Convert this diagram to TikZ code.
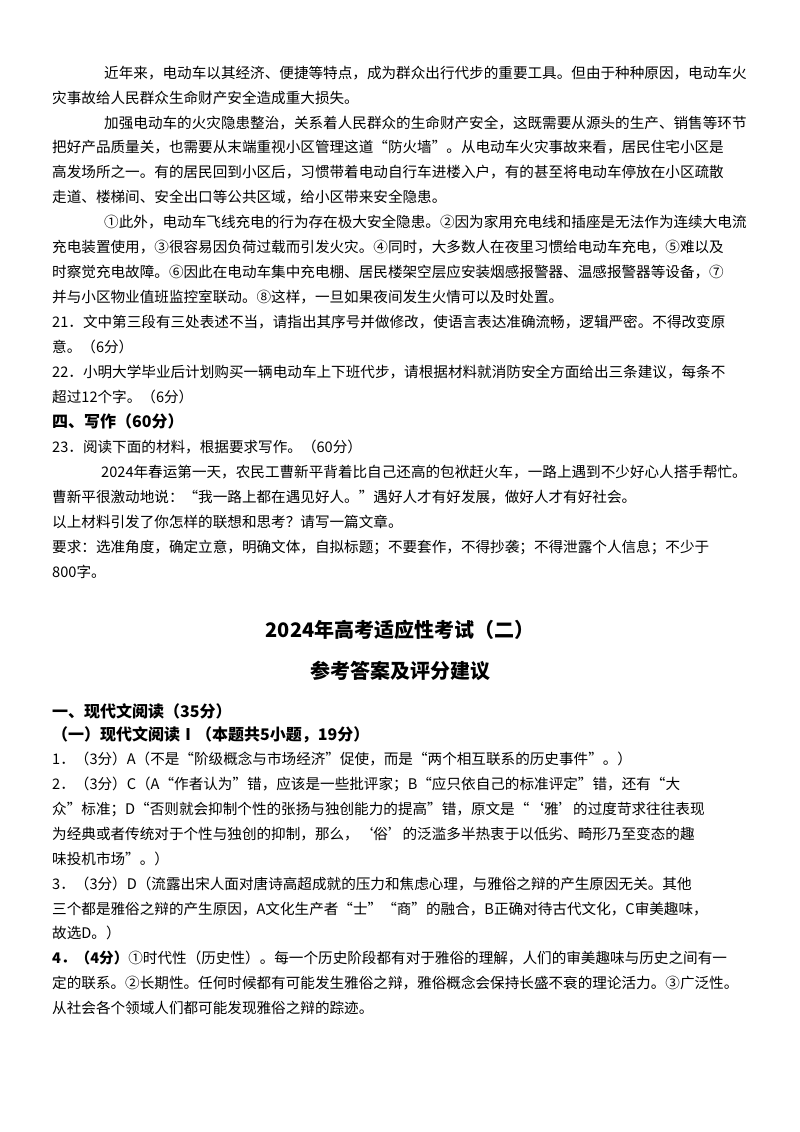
\documentclass[tikz,border=0pt]{standalone}
\usepackage{fontspec}
\setmainfont{Noto Sans CJK SC}
\newfontfamily\cjkb{Noto Sans CJK SC Bold}
\begin{document}
\begin{tikzpicture}[x=1pt,y=-1pt,
  ln/.style={anchor=west,inner sep=0pt,font=\fontsize{14.6}{16}\selectfont},
  hd/.style={anchor=west,inner sep=0pt,font=\fontsize{16}{18}\selectfont\bfseries},
  tt/.style={anchor=center,inner sep=0pt,font=\fontsize{20}{22}\selectfont\bfseries}]
\useasboundingbox[fill=white] (0,0) rectangle (800,1132);
\node[ln] (a1) at (104,73) {近年来，电动车以其经济、便捷等特点，成为群众出行代步的重要工具。但由于种种原因，电动车火};
\node[ln] (a2) at (52,98) {灾事故给人民群众生命财产安全造成重大损失。};
\node[ln] (a3) at (104,123) {加强电动车的火灾隐患整治，关系着人民群众的生命财产安全，这既需要从源头的生产、销售等环节};
\node[ln] (a4) at (52,147) {把好产品质量关，也需要从末端重视小区管理这道“防火墙”。从电动车火灾事故来看，居民住宅小区是};
\node[ln] (a5) at (52,172) {高发场所之一。有的居民回到小区后，习惯带着电动自行车进楼入户，有的甚至将电动车停放在小区疏散};
\node[ln] (a6) at (52,197) {走道、楼梯间、安全出口等公共区域，给小区带来安全隐患。};
\node[ln] (a7) at (104,222) {①此外，电动车飞线充电的行为存在极大安全隐患。②因为家用充电线和插座是无法作为连续大电流};
\node[ln] (a8) at (52,247) {充电装置使用，③很容易因负荷过载而引发火灾。④同时，大多数人在夜里习惯给电动车充电，⑤难以及};
\node[ln] (a9) at (52,272) {时察觉充电故障。⑥因此在电动车集中充电棚、居民楼架空层应安装烟感报警器、温感报警器等设备，⑦};
\node[ln] (a10) at (52,297) {并与小区物业值班监控室联动。⑧这样，一旦如果夜间发生火情可以及时处置。};
\node[ln] (b1) at (52,322) {21．文中第三段有三处表述不当，请指出其序号并做修改，使语言表达准确流畅，逻辑严密。不得改变原};
\node[ln] (b2) at (52,347) {意。（6分）};
\node[ln] (b3) at (52,372) {22．小明大学毕业后计划购买一辆电动车上下班代步，请根据材料就消防安全方面给出三条建议，每条不};
\node[ln] (b4) at (52,397) {超过12个字。（6分）};
\node[hd] (b5) at (52,421) {四、写作（60分）};
\node[ln] (b6) at (52,447) {23．阅读下面的材料，根据要求写作。（60分）};
\node[ln] (b7) at (101,472) {2024年春运第一天，农民工曹新平背着比自己还高的包袱赶火车，一路上遇到不少好心人搭手帮忙。};
\node[ln] (b8) at (52,497) {曹新平很激动地说：“我一路上都在遇见好人。”遇好人才有好发展，做好人才有好社会。};
\node[ln] (b9) at (52,522) {以上材料引发了你怎样的联想和思考？请写一篇文章。};
\node[ln] (b10) at (52,547) {要求：选准角度，确定立意，明确文体，自拟标题；不要套作，不得抄袭；不得泄露个人信息；不少于};
\node[ln] (b11) at (52,572) {800字。};
\node[tt] (t1) at (400,630) {2024年高考适应性考试（二）};
\node[tt] (t2) at (400,671) {参考答案及评分建议};
\node[hd] (c1) at (52,711) {一、现代文阅读（35分）};
\node[hd] (c2) at (52,735) {（一）现代文阅读Ⅰ（本题共5小题，19分）};
\node[ln] (c3) at (52,759) {1．（3分）A（不是“阶级概念与市场经济”促使，而是“两个相互联系的历史事件”。）};
\node[ln] (c4) at (52,784) {2．（3分）C（A“作者认为”错，应该是一些批评家；B“应只依自己的标准评定”错，还有“大};
\node[ln] (c5) at (52,809) {众”标准；D“否则就会抑制个性的张扬与独创能力的提高”错，原文是“‘雅’的过度苛求往往表现};
\node[ln] (c6) at (52,834) {为经典或者传统对于个性与独创的抑制，那么，‘俗’的泛滥多半热衷于以低劣、畸形乃至变态的趣};
\node[ln] (c7) at (52,859) {味投机市场”。）};
\node[ln] (c8) at (52,884) {3．（3分）D（流露出宋人面对唐诗高超成就的压力和焦虑心理，与雅俗之辩的产生原因无关。其他};
\node[ln] (c9) at (52,909) {三个都是雅俗之辩的产生原因，A文化生产者“士”“商”的融合，B正确对待古代文化，C审美趣味，};
\node[ln] (c10) at (52,933) {故选D。）};
\node[ln] (c11) at (52,958) {\textbf{4．（4分）}①时代性（历史性）。每一个历史阶段都有对于雅俗的理解，人们的审美趣味与历史之间有一};
\node[ln] (c12) at (52,983) {定的联系。②长期性。任何时候都有可能发生雅俗之辩，雅俗概念会保持长盛不衰的理论活力。③广泛性。};
\node[ln] (c13) at (52,1008) {从社会各个领域人们都可能发现雅俗之辩的踪迹。};
\end{tikzpicture}
\end{document}
